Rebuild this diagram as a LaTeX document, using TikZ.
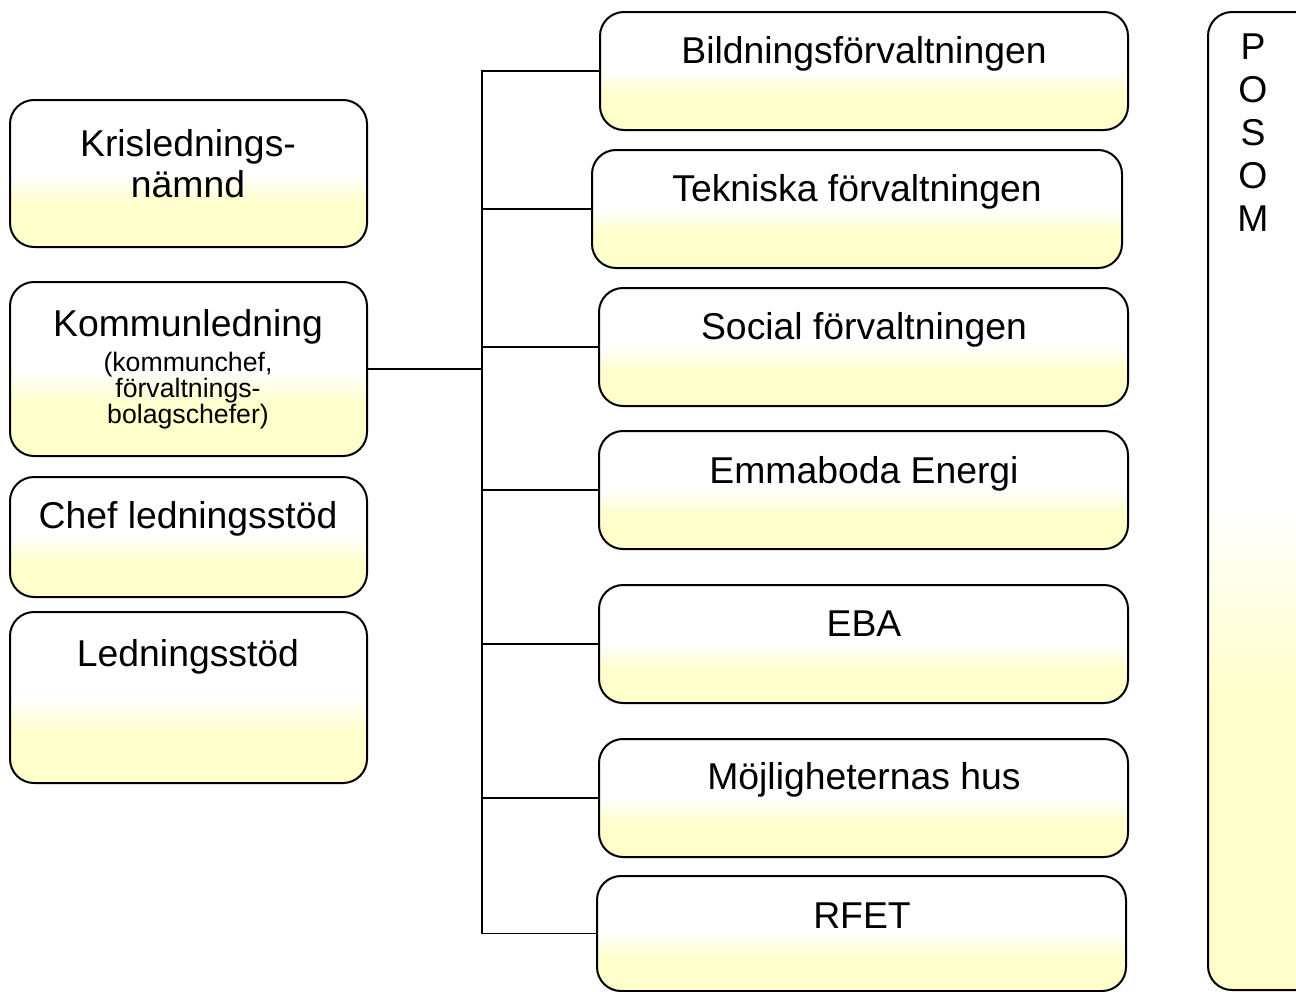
\documentclass[tikz,border=0pt]{standalone}
\usepackage{fontspec}
\setmainfont{Liberation Sans}
\definecolor{boxyellow}{RGB}{255,255,204}
\pgfdeclareverticalshading{boxshade}{100bp}{color(0bp)=(boxyellow); color(40bp)=(boxyellow); color(50bp)=(white); color(100bp)=(white)}
\tikzset{
  orgbox/.style={draw=black, line width=1.5pt, rounded corners=18pt, shading=boxshade, inner sep=0pt},
  big/.style={font=\fontsize{28}{31}\selectfont, inner sep=0pt, anchor=base},
  small/.style={font=\fontsize{20}{24}\selectfont, inner sep=0pt, anchor=base},
  conn/.style={draw=black, line width=1.3pt}
}
\begin{document}
\begin{tikzpicture}[x=0.75pt,y=-0.75pt]
\useasboundingbox (0,0) rectangle (1296,992);
\clip (0,0) rectangle (1296,992);
% left column
\node[orgbox, minimum width=357*0.75pt, minimum height=147*0.75pt] (kris) at (188.5,173.5) {};
\node[orgbox, minimum width=357*0.75pt, minimum height=174*0.75pt] (kom) at (188.5,369) {};
\node[orgbox, minimum width=357*0.75pt, minimum height=120*0.75pt] (chef) at (188.5,537) {};
\node[orgbox, minimum width=357*0.75pt, minimum height=171*0.75pt] (led) at (188.5,697.5) {};
% right column
\node[orgbox, minimum width=528*0.75pt, minimum height=118*0.75pt] (bild) at (864,71) {};
\node[orgbox, minimum width=530*0.75pt, minimum height=118*0.75pt] (tek) at (857,209) {};
\node[orgbox, minimum width=529*0.75pt, minimum height=118*0.75pt] (soc) at (863.5,347) {};
\node[orgbox, minimum width=529*0.75pt, minimum height=118*0.75pt] (emma) at (863.5,490) {};
\node[orgbox, minimum width=529*0.75pt, minimum height=118*0.75pt] (eba) at (863.5,644) {};
\node[orgbox, minimum width=529*0.75pt, minimum height=118*0.75pt] (mojl) at (863.5,798) {};
\node[orgbox, minimum width=529*0.75pt, minimum height=115*0.75pt] (rfet) at (861.5,933.5) {};
% POSOM
\node[orgbox, minimum width=112*0.75pt, minimum height=978*0.75pt] (posom) at (1264,501) {};
% texts
\node[big] (t-kris1) at (188,156) {Krislednings-};
\node[big] (t-kris2) at (188,197) {nämnd};
\node[big] (t-kom) at (188,336) {Kommunledning};
\node[small] (t-kom1) at (188,371) {(kommunchef,};
\node[small] (t-kom2) at (188,397) {förvaltnings-};
\node[small] (t-kom3) at (188,423) {bolagschefer)};
\node[big] (t-chef) at (188,528) {Chef ledningsstöd};
\node[big] (t-led) at (188,666) {Ledningsstöd};
\node[big] (t-bild) at (864,63) {Bildningsförvaltningen};
\node[big] (t-tek) at (857,201) {Tekniska förvaltningen};
\node[big] (t-soc) at (864,339) {Social förvaltningen};
\node[big] (t-emma) at (864,483) {Emmaboda Energi};
\node[big] (t-eba) at (864,636) {EBA};
\node[big] (t-mojl) at (864,789) {Möjligheternas hus};
\node[big] (t-rfet) at (862,928) {RFET};
\node[big] (t-p1) at (1253,59) {P};
\node[big] (t-p2) at (1253,102) {O};
\node[big] (t-p3) at (1253,145) {S};
\node[big] (t-p4) at (1253,188) {O};
\node[big] (t-p5) at (1253,231) {M};
% connectors
\coordinate (tx) at (482,0);
\draw[conn] (bild.west) -- (bild.west -| tx) -- (rfet.west -| tx) -- (rfet.west);
\draw[conn] (kom.east) -- (kom.east -| tx);
\draw[conn] (tek.west) -- (tek.west -| tx);
\draw[conn] (soc.west) -- (soc.west -| tx);
\draw[conn] (emma.west) -- (emma.west -| tx);
\draw[conn] (eba.west) -- (eba.west -| tx);
\draw[conn] (mojl.west) -- (mojl.west -| tx);
\end{tikzpicture}
\end{document}
